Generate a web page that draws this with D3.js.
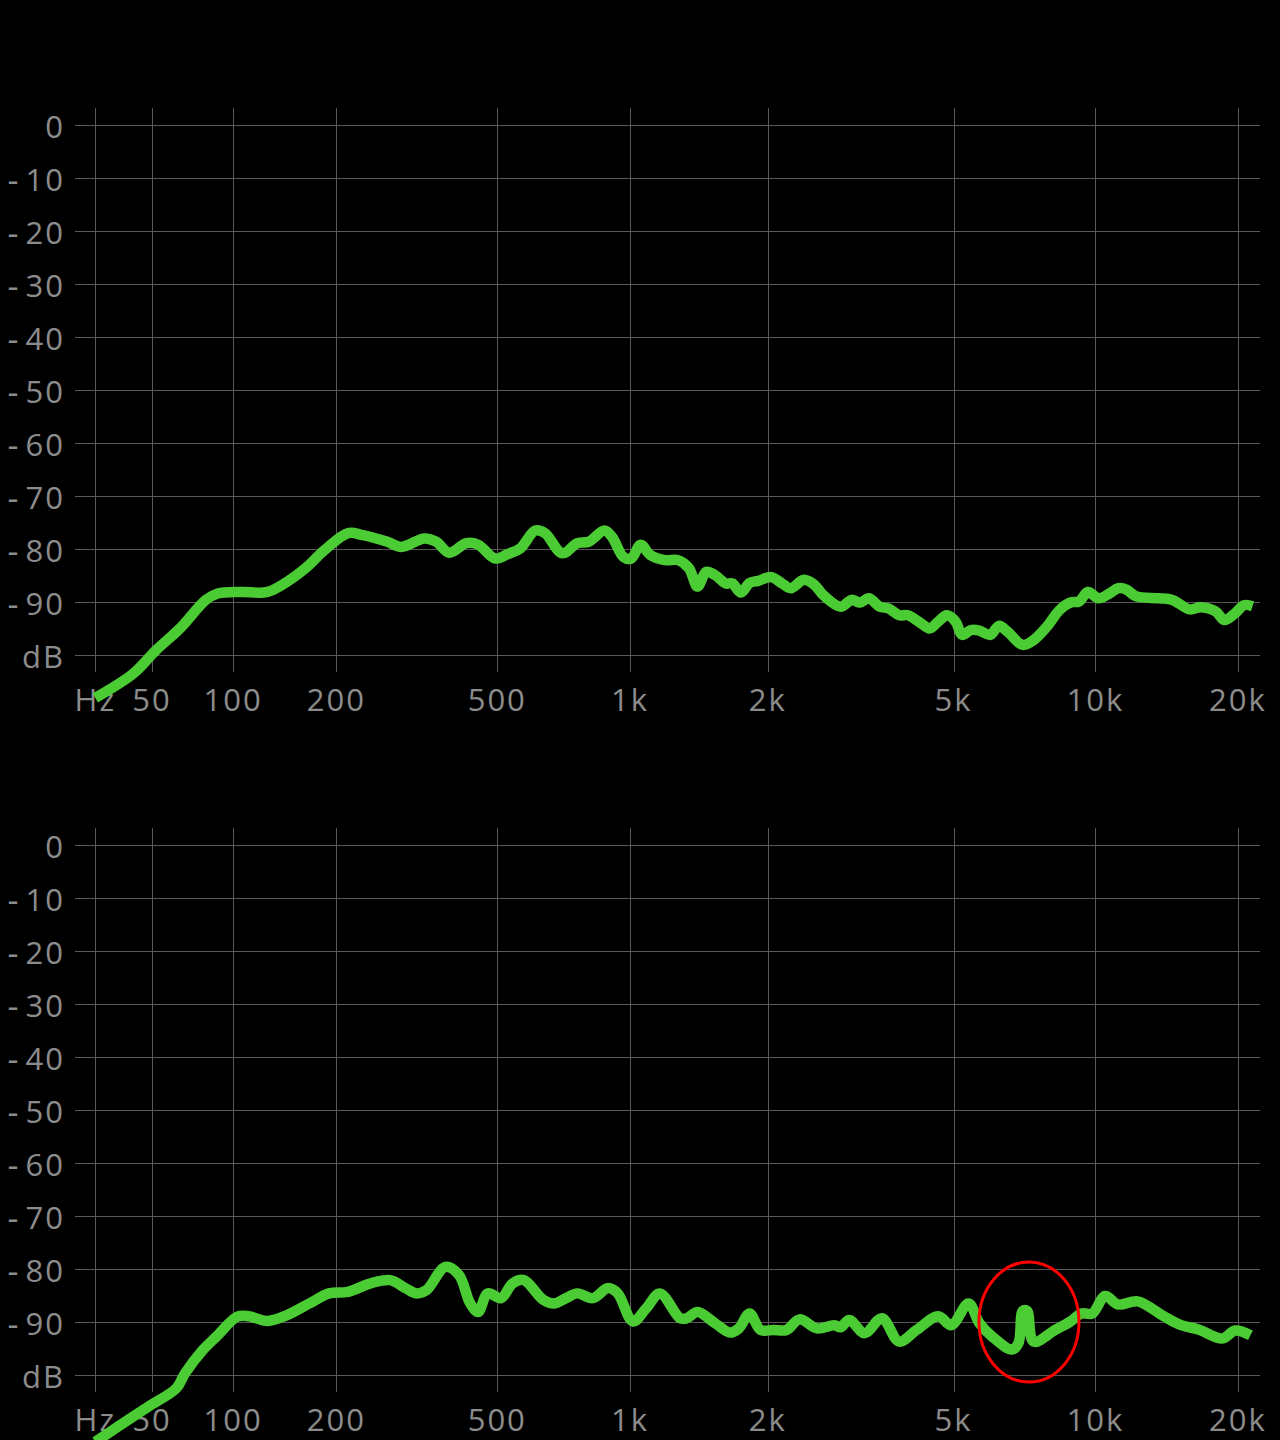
<!DOCTYPE html>
<html>
<head>
<meta charset="utf-8">
<script src="https://cdn.jsdelivr.net/npm/d3@7"></script>
<style>
  body { margin: 0; background: #000; }
  svg { display: block; }
  text { font-family: "Open Sans", sans-serif; fill: #8c8c8c; }
</style>
</head>
<body>
<script>
// frequency (Hz), level (dB)
var topSeries = [
  [25, -108.1], [41, -103.5], [52, -99.1], [65, -95.0], [81, -89.6], [89, -88.4], [106, -88.1], [128, -88.1],
  [146, -86.2], [165, -83.6], [186, -80.2], [215, -77.0], [235, -77.4], [270, -78.6], [294, -79.6], [335, -78.0],
  [358, -78.6], [385, -80.7], [423, -78.9], [451, -79.2], [495, -81.8], [531, -80.9], [565, -79.9], [612, -76.5],
  [644, -77.0], [705, -80.8], [763, -78.9], [810, -78.6], [877, -76.5], [912, -77.7], [967, -81.5], [1006, -81.8],
  [1056, -79.2], [1108, -81.1], [1195, -82.1], [1276, -82.1], [1348, -83.6], [1408, -87.1], [1471, -84.3], [1536, -84.9],
  [1622, -86.5], [1676, -86.5], [1750, -88.2], [1827, -86.4], [1908, -86.0], [2036, -85.3], [2148, -86.5], [2243, -87.4],
  [2393, -85.8], [2525, -86.8], [2635, -88.7], [2871, -90.9], [3029, -89.6], [3161, -90.1], [3300, -89.3], [3480, -90.9],
  [3632, -91.2], [3830, -92.5], [3998, -92.5], [4261, -94.0], [4446, -95.0], [4641, -93.7], [4840, -92.5], [5050, -93.7],
  [5214, -96.2], [5440, -95.3], [5674, -95.4], [5985, -96.2], [6245, -94.5], [6513, -95.6], [7015, -98.1], [7393, -97.2],
  [7882, -94.7], [8398, -91.5], [8853, -90.1], [9235, -89.9], [9636, -88.1], [10156, -89.3], [10704, -88.4], [11168, -87.4],
  [11650, -87.7], [12155, -88.9], [13647, -89.3], [14538, -89.6], [15822, -91.4], [16674, -91.0], [17954, -91.8], [18718, -93.4],
  [19735, -92.1], [20588, -90.6], [21467, -90.8]
];

var bottomSeries = [
  [25, -112.6], [34, -109.8], [48, -106.0], [63, -102.5], [68, -99.7], [79, -95.3], [89, -92.5], [103, -89.0],
  [112, -88.9], [128, -89.8], [146, -88.7], [169, -86.5], [191, -84.6], [215, -84.3], [246, -82.7], [276, -82.1],
  [301, -83.6], [321, -84.6], [339, -84.0], [377, -79.6], [406, -81.1], [432, -86.5], [451, -88.1], [475, -84.6],
  [510, -85.5], [543, -82.7], [576, -82.1], [638, -85.8], [677, -86.5], [719, -85.5], [763, -84.6], [826, -85.5],
  [894, -83.6], [939, -84.6], [1015, -89.9], [1087, -87.4], [1164, -84.6], [1290, -89.3], [1333, -89.3], [1408, -88.1],
  [1536, -90.2], [1658, -92.0], [1732, -91.2], [1827, -88.4], [1929, -91.5], [2059, -91.5], [2196, -91.5], [2342, -89.5],
  [2551, -91.2], [2781, -90.6], [2871, -91.0], [2995, -89.6], [3229, -92.1], [3519, -89.3], [3830, -93.7], [4172, -91.5],
  [4641, -88.9], [4945, -90.6], [5382, -86.5], [5674, -90.2], [6050, -92.8], [6655, -95.2], [6869, -94.0], [7015, -87.9],
  [7164, -87.9], [7393, -93.7], [8220, -91.5], [8853, -89.9], [9336, -88.4], [9840, -88.4], [10482, -85.1], [11168, -86.7],
  [12281, -86.1], [13934, -88.9], [15168, -90.6], [16501, -91.4], [18531, -93.1], [19735, -91.6], [21250, -92.5]
];

var xTicks = [25, 50, 100, 200, 500, 1000, 2000, 5000, 10000, 20000];
var xTickLabels = ["Hz", "50", "100", "200", "500", "1k", "2k", "5k", "10k", "20k"];
var yTicks = [0, -10, -20, -30, -40, -50, -60, -70, -80, -90, -100];
var yTickLabels = ["0", "-10", "-20", "-30", "-40", "-50", "-60", "-70", "-80", "-90", "dB"];

// the circled glitch in the second measurement
var markFreq = 7230;
var markDb = -90;

var breedte = 1280, hoogte = 1440;

var svg = d3.select("body").append("svg")
  .attr("width", breedte)
  .attr("height", hoogte)
  .style("background", "#000");

// frequency axis is log-like but flattens at the low end -> symlog
var x = d3.scaleSymlog()
  .constant(54)
  .domain([25, 22000])
  .range([95.3, 1257.6]);

var panelen = [
  {boven: 125, data: topSeries, markeer: false},
  {boven: 845, data: bottomSeries, markeer: true}
];

panelen.forEach(function(p) {
  var y = d3.scaleLinear().domain([-100, 0]).range([p.boven + 530, p.boven]);
  var g = svg.append("g");

  // horizontale rasterlijnen
  g.selectAll(".hlijn")
    .data(yTicks)
    .enter().append("line")
    .attr("x1", 75).attr("x2", 1260)
    .attr("y1", function(d) { return Math.round(y(d)) + 0.5; })
    .attr("y2", function(d) { return Math.round(y(d)) + 0.5; })
    .attr("stroke", "#585858")
    .attr("stroke-width", 1);

  // verticale rasterlijnen
  g.selectAll(".vlijn")
    .data(xTicks)
    .enter().append("line")
    .attr("x1", function(d) { return Math.round(x(d)) + 0.5; })
    .attr("x2", function(d) { return Math.round(x(d)) + 0.5; })
    .attr("y1", y(0) - 17)
    .attr("y2", y(-100) + 17)
    .attr("stroke", "#585858")
    .attr("stroke-width", 1);

  // y labels: the minus sign sits a little apart from the digits
  var ylab = g.selectAll(".ylabel")
    .data(yTicks)
    .enter().append("text")
    .attr("x", 65)
    .attr("y", function(d) { return y(d) + 1; })
    .attr("text-anchor", "end")
    .attr("dominant-baseline", "central")
    .attr("font-size", "31px")
    .style("letter-spacing", "2px");

  ylab.each(function(d, i) {
    var t = d3.select(this);
    var lab = yTickLabels[i];
    if (lab.charAt(0) === "-") {
      t.append("tspan").style("letter-spacing", "7px").attr("font-size", "34px").text("-");
      t.append("tspan").text(lab.slice(1));
    } else {
      t.text(lab);
    }
  });

  // x labels
  g.selectAll(".xlabel")
    .data(xTicks)
    .enter().append("text")
    .attr("x", function(d) { return x(d); })
    .attr("y", y(-100) + 44)
    .attr("text-anchor", "middle")
    .attr("dominant-baseline", "central")
    .attr("font-size", "31px")
    .style("letter-spacing", "2px")
    .text(function(d, i) { return xTickLabels[i]; });

  // meetcurve
  var lijn = d3.line()
    .x(function(d) { return x(d[0]); })
    .y(function(d) { return y(d[1]); })
    .curve(d3.curveCatmullRom.alpha(0.5));

  g.append("path")
    .datum(p.data)
    .attr("d", lijn)
    .attr("fill", "none")
    .attr("stroke", "#4ccc34")
    .attr("stroke-width", 10.5)
    .attr("stroke-linejoin", "round");

  if (p.markeer) {
    g.append("ellipse")
      .attr("cx", x(markFreq))
      .attr("cy", y(markDb))
      .attr("rx", 50)
      .attr("ry", 60)
      .attr("fill", "none")
      .attr("stroke", "#ff0000")
      .attr("stroke-width", 3);
  }
});
</script>
</body>
</html>
